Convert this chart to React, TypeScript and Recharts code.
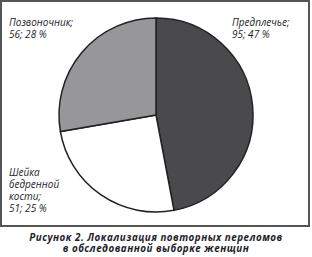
import React from "react";
import { PieChart, Pie, Cell, Customized } from "recharts";

const categories = ["Предплечье", "Шейка бедренной кости", "Позвоночник"];
const values = [95, 51, 56];
const percents = [47, 25, 28];
const labelLines: string[][] = [["Предплечье;"], ["Шейка", "бедренной", "кости;"], ["Позвоночник;"]];
const captionLines = ["Рисунок 2. Локализация повторных переломов", "в обследованной выборке женщин"];

const colors = ["#4a4a4c", "#ffffff", "#97979a"];
const labelPos = [
  { x: 232, y: 26 },
  { x: 9, y: 176 },
  { x: 9, y: 26 },
];

const data = categories.map((name, i) => ({ name, value: values[i], pct: percents[i] }));

const TEXT = "#1e1e2a";
const FONT = "'Open Sans', 'Noto Sans', sans-serif";

const renderLabel = (props: any) => {
  const i = props.index;
  const p = labelPos[i];
  const lines = [...labelLines[i], `${values[i]}; ${percents[i]} %`];
  return (
    <g key={`l${i}`}>
      {lines.map((l, k) => (
        <text key={k} x={p.x} y={p.y + k * 12} fill={TEXT} fontSize={10} fontStyle="italic" fontFamily={FONT}>
          {l}
        </text>
      ))}
    </g>
  );
};

const Decor = () => (
  <g>
    <rect x={1} y={1} width={308} height={225} fill="none" stroke="#555" strokeWidth={2} />
    {captionLines.map((l, k) => (
      <text
        key={k}
        x={156}
        y={241 + k * 11}
        textAnchor="middle"
        fill={TEXT}
        fontSize={9.8}
        fontWeight="bold"
        fontStyle="italic"
        fontFamily={FONT}
        letterSpacing={0.5}
      >
        {l}
      </text>
    ))}
  </g>
);

export default function App() {
  return (
    <div style={{ position: "absolute", left: 0, top: 0, width: 312, height: 257, background: "#fff" }}>
      <PieChart width={312} height={257} margin={{ top: 0, right: 0, bottom: 0, left: 0 }}>
        <Customized component={Decor} />
        <Pie
          data={data}
          dataKey="value"
          nameKey="name"
          cx={156}
          cy={115}
          outerRadius={97}
          startAngle={90}
          endAngle={-270}
          stroke="#222"
          strokeWidth={1.5}
          label={renderLabel}
          labelLine={false}
          isAnimationActive={false}
        >
          {data.map((d, i) => (
            <Cell key={d.name} fill={colors[i]} />
          ))}
        </Pie>
      </PieChart>
    </div>
  );
}
